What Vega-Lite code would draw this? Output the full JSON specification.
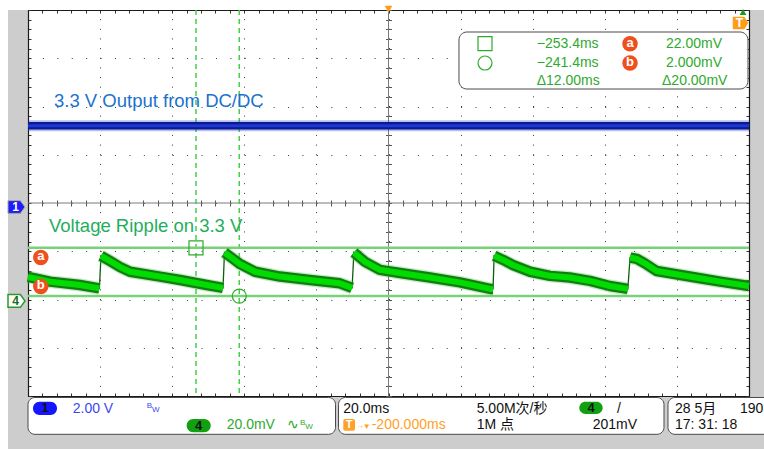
{
"$schema": "https://vega.github.io/schema/vega-lite/v6.json",
"width": 721, "height": 386,
"autosize": {"type": "none"},
"padding": {"left": 28, "top": 10, "right": 15, "bottom": 53},
"background": "#cdcdcd",
"config": {"view": {"fill": "white", "stroke": null}},
"datasets": {
 "ch4": [
  {"t": -300, "v": 9.95, "seg": 0}, {"t": -293.9, "v": 8.0, "seg": 0}, {"t": -285.6, "v": 6.6, "seg": 0}, {"t": -280.2, "v": 5.2, "seg": 0},
  {"t": -279.75, "v": 18.7, "seg": 1}, {"t": -277.3, "v": 16.6, "seg": 1}, {"t": -274.5, "v": 14.1, "seg": 1}, {"t": -271.7, "v": 12.1, "seg": 1}, {"t": -263.4, "v": 10.1, "seg": 1}, {"t": -257.8, "v": 8.7, "seg": 1}, {"t": -250.4, "v": 6.6, "seg": 1}, {"t": -245.9, "v": 5.4, "seg": 1},
  {"t": -245.5, "v": 20.1, "seg": 2}, {"t": -243.4, "v": 17.8, "seg": 2}, {"t": -241.2, "v": 15.3, "seg": 2}, {"t": -237.0, "v": 12.1, "seg": 2}, {"t": -230.1, "v": 10.1, "seg": 2}, {"t": -221.8, "v": 8.7, "seg": 2}, {"t": -213.5, "v": 7.3, "seg": 2}, {"t": -210.1, "v": 5.4, "seg": 2},
  {"t": -209.6, "v": 20.1, "seg": 3}, {"t": -206.5, "v": 16.2, "seg": 3}, {"t": -202.4, "v": 12.9, "seg": 3}, {"t": -196.8, "v": 11.6, "seg": 3}, {"t": -188.5, "v": 9.7, "seg": 3}, {"t": -180.2, "v": 7.7, "seg": 3}, {"t": -171.8, "v": 5.0, "seg": 3}, {"t": -171.0, "v": 5.0, "seg": 3},
  {"t": -170.7, "v": 18.7, "seg": 4}, {"t": -168.2, "v": 17.0, "seg": 4}, {"t": -165.5, "v": 14.9, "seg": 4}, {"t": -160.7, "v": 12.1, "seg": 4}, {"t": -155.2, "v": 10.4, "seg": 4}, {"t": -149.7, "v": 9.7, "seg": 4}, {"t": -144.1, "v": 8.3, "seg": 4}, {"t": -138.6, "v": 6.2, "seg": 4}, {"t": -133.6, "v": 5.0, "seg": 4},
  {"t": -133.0, "v": 18.0, "seg": 5}, {"t": -131.1, "v": 17.4, "seg": 5}, {"t": -128.9, "v": 15.6, "seg": 5}, {"t": -125.6, "v": 12.4, "seg": 5}, {"t": -121.9, "v": 11.5, "seg": 5}, {"t": -113.6, "v": 9.4, "seg": 5}, {"t": -108.0, "v": 8.0, "seg": 5}, {"t": -100, "v": 6.2, "seg": 5}
 ],
 "ch1": [{"t": -300, "v": 3.2}, {"t": -250, "v": 3.2}, {"t": -200, "v": 3.2}, {"t": -150, "v": 3.2}, {"t": -100, "v": 3.2}]
},
"data": {"values": [{}]},
"resolve": {"scale": {"y": "independent"}, "axis": {"x": "independent", "y": "independent"}},
"layer": [
 {"mark": {"type": "rect", "color": "white", "clip": false},
  "encoding": {"x": {"datum": -320, "type": "quantitative", "scale": {"domain": [-300, -100]}, "axis": null}, "x2": {"datum": -80},
   "y": {"datum": 120.6, "type": "quantitative", "scale": {"domain": [-39.4, 120.6]}, "axis": null}, "y2": {"datum": 135}}},
 {"mark": {"type": "rect", "color": "white", "clip": false},
  "encoding": {"x": {"datum": -320, "type": "quantitative", "scale": {"domain": [-300, -100]}, "axis": null}, "x2": {"datum": -305.55},
   "y": {"datum": 135, "type": "quantitative", "scale": {"domain": [-39.4, 120.6]}, "axis": null}, "y2": {"datum": -75}}},
 {"mark": {"type": "rule", "color": "#7a7a7a", "strokeWidth": 1},
  "encoding": {"x": {"datum": -200, "type": "quantitative", "scale": {"domain": [-300, -100]},
   "axis": {"orient": "bottom", "title": null, "labels": false, "values": [-300,-296,-292,-288,-284,-280,-276,-272,-268,-264,-260,-256,-252,-248,-244,-240,-236,-232,-228,-224,-220,-216,-212,-208,-204,-200,-196,-192,-188,-184,-180,-176,-172,-168,-164,-160,-156,-152,-148,-144,-140,-136,-132,-128,-124,-120,-116,-112,-108,-104,-100],
    "domain": true, "domainColor": "#1a1a1a", "domainWidth": 1.2, "ticks": true, "tickSize": -3, "tickColor": "#333333", "tickWidth": 1,
    "grid": true, "gridColor": "#3a3a3a", "gridWidth": 1, "gridDash": [1, 8.65],
    "gridOpacity": {"condition": {"test": "datum.value % 20 === 0", "value": 1}, "value": 0}}}}},
 {"mark": {"type": "rule", "color": "#7a7a7a", "strokeWidth": 1},
  "encoding": {"y": {"datum": 40.6, "type": "quantitative", "scale": {"domain": [-39.4, 120.6]},
   "axis": {"orient": "left", "title": null, "labels": false, "values": [-39.4,-35.4,-31.4,-27.4,-23.4,-19.4,-15.4,-11.4,-7.4,-3.4,0.6,4.6,8.6,12.6,16.6,20.6,24.6,28.6,32.6,36.6,40.6,44.6,48.6,52.6,56.6,60.6,64.6,68.6,72.6,76.6,80.6,84.6,88.6,92.6,96.6,100.6,104.6,108.6,112.6,116.6,120.6],
    "domain": true, "domainColor": "#1a1a1a", "domainWidth": 1.2, "ticks": true, "tickSize": -3, "tickColor": "#333333", "tickWidth": 1,
    "grid": true, "gridColor": "#3a3a3a", "gridWidth": 1, "gridDash": [1, 13.42],
    "gridOpacity": {"condition": {"test": "abs((datum.value + 39.4) / 20 - round((datum.value + 39.4) / 20)) < 0.01", "value": 1}, "value": 0}}}}},
 {"mark": {"type": "rule", "color": "#46cf46", "strokeWidth": 1.5, "strokeDash": [5, 4]},
  "encoding": {"x": {"datum": -253.4, "type": "quantitative", "scale": {"domain": [-300, -100]},
   "axis": {"orient": "top", "title": null, "labels": false, "values": [-300,-296,-292,-288,-284,-280,-276,-272,-268,-264,-260,-256,-252,-248,-244,-240,-236,-232,-228,-224,-220,-216,-212,-208,-204,-200,-196,-192,-188,-184,-180,-176,-172,-168,-164,-160,-156,-152,-148,-144,-140,-136,-132,-128,-124,-120,-116,-112,-108,-104,-100],
    "domain": true, "domainColor": "#1a1a1a", "domainWidth": 1.2, "tickSize": -3, "tickColor": "#333333", "grid": false}}}},
 {"mark": {"type": "rule", "color": "#46cf46", "strokeWidth": 1.5, "strokeDash": [5, 4]},
  "encoding": {"x": {"datum": -241.4, "type": "quantitative", "scale": {"domain": [-300, -100]},
   "axis": {"orient": "bottom", "offset": -196, "title": null, "labels": false, "values": [-300,-296,-292,-288,-284,-280,-276,-272,-268,-264,-260,-256,-252,-248,-244,-240,-236,-232,-228,-224,-220,-216,-212,-208,-204,-200,-196,-192,-188,-184,-180,-176,-172,-168,-164,-160,-156,-152,-148,-144,-140,-136,-132,-128,-124,-120,-116,-112,-108,-104,-100],
    "domain": false, "tickSize": 6, "tickColor": "#555555", "grid": false}}}},
 {"mark": {"type": "rule", "color": "#78d278", "strokeWidth": 2.5},
  "encoding": {"y": {"datum": 22, "type": "quantitative", "scale": {"domain": [-39.4, 120.6]},
   "axis": {"orient": "right", "title": null, "labels": false, "values": [-39.4,-35.4,-31.4,-27.4,-23.4,-19.4,-15.4,-11.4,-7.4,-3.4,0.6,4.6,8.6,12.6,16.6,20.6,24.6,28.6,32.6,36.6,40.6,44.6,48.6,52.6,56.6,60.6,64.6,68.6,72.6,76.6,80.6,84.6,88.6,92.6,96.6,100.6,104.6,108.6,112.6,116.6,120.6],
    "domain": true, "domainColor": "#1a1a1a", "domainWidth": 1.2, "tickSize": -3, "tickColor": "#333333", "grid": false}}}},
 {"mark": {"type": "rule", "color": "#78d278", "strokeWidth": 2.5},
  "encoding": {"y": {"datum": 2, "type": "quantitative", "scale": {"domain": [-39.4, 120.6]},
   "axis": {"orient": "left", "offset": -363.5, "title": null, "labels": false, "values": [-39.4,-35.4,-31.4,-27.4,-23.4,-19.4,-15.4,-11.4,-7.4,-3.4,0.6,4.6,8.6,12.6,16.6,20.6,24.6,28.6,32.6,36.6,40.6,44.6,48.6,52.6,56.6,60.6,64.6,68.6,72.6,76.6,80.6,84.6,88.6,92.6,96.6,100.6,104.6,108.6,112.6,116.6,120.6],
    "domain": false, "tickSize": 6, "tickColor": "#555555", "grid": false}}}},
 {"data": {"name": "ch1"}, "mark": {"type": "line", "color": "#3346e0", "strokeWidth": 11, "strokeCap": "butt", "opacity": 0.35},
  "encoding": {"x": {"field": "t", "type": "quantitative", "scale": {"domain": [-300, -100]}, "axis": null},
   "y": {"field": "v", "type": "quantitative", "scale": {"domain": [-8, 8]}, "axis": null}}},
 {"data": {"name": "ch1"}, "mark": {"type": "line", "color": "#0d1a8a", "strokeWidth": 7.5, "strokeCap": "butt"},
  "encoding": {"x": {"field": "t", "type": "quantitative", "scale": {"domain": [-300, -100]}, "axis": null},
   "y": {"field": "v", "type": "quantitative", "scale": {"domain": [-8, 8]}, "axis": null}}},
 {"data": {"name": "ch1"}, "mark": {"type": "line", "color": "#1d36d6", "strokeWidth": 3, "strokeCap": "butt"},
  "encoding": {"x": {"field": "t", "type": "quantitative", "scale": {"domain": [-300, -100]}, "axis": null},
   "y": {"field": "v", "type": "quantitative", "scale": {"domain": [-8, 8]}, "axis": null}}},
 {"data": {"name": "ch4"}, "mark": {"type": "line", "color": "#0b5e0b", "strokeWidth": 1.3},
  "encoding": {"x": {"field": "t", "type": "quantitative", "scale": {"domain": [-300, -100]}, "axis": null},
   "y": {"field": "v", "type": "quantitative", "scale": {"domain": [-39.4, 120.6]}, "axis": null}}},
 {"data": {"name": "ch4"}, "mark": {"type": "line", "color": "#4cc94c", "strokeWidth": 13, "strokeCap": "butt", "strokeJoin": "round", "opacity": 0.35},
  "encoding": {"x": {"field": "t", "type": "quantitative", "scale": {"domain": [-300, -100]}, "axis": null},
   "y": {"field": "v", "type": "quantitative", "scale": {"domain": [-39.4, 120.6]}, "axis": null},
   "detail": {"field": "seg", "type": "nominal"}}},
 {"data": {"name": "ch4"}, "mark": {"type": "line", "color": "#137d13", "strokeWidth": 10.5, "strokeCap": "butt", "strokeJoin": "round"},
  "encoding": {"x": {"field": "t", "type": "quantitative", "scale": {"domain": [-300, -100]}, "axis": null},
   "y": {"field": "v", "type": "quantitative", "scale": {"domain": [-39.4, 120.6]}, "axis": null},
   "detail": {"field": "seg", "type": "nominal"}}},
 {"data": {"name": "ch4"}, "mark": {"type": "line", "color": "#00dc00", "strokeWidth": 6, "strokeCap": "butt", "strokeJoin": "round"},
  "encoding": {"x": {"field": "t", "type": "quantitative", "scale": {"domain": [-300, -100]}, "axis": null},
   "y": {"field": "v", "type": "quantitative", "scale": {"domain": [-39.4, 120.6]}, "axis": null},
   "detail": {"field": "seg", "type": "nominal"}}},
 {"mark": {"type": "rect", "fill": "white", "stroke": "#4a4a4a", "strokeWidth": 1, "cornerRadius": 8, "clip": false},
  "encoding": {"x": {"datum": -180.45, "type": "quantitative", "scale": {"domain": [-300, -100]}, "axis": null}, "x2": {"datum": -100.28},
   "y": {"datum": 111.48, "type": "quantitative", "scale": {"domain": [-39.4, 120.6]}, "axis": null}, "y2": {"datum": 87.85}}},
 {"data": {"values": [
   {"t": -158.89, "v": 104.72, "s": "−253.4ms"}, {"t": -158.89, "v": 97.10, "s": "−241.4ms"}, {"t": -158.89, "v": 89.51, "s": "Δ12.00ms"},
   {"t": -123.02, "v": 104.72, "s": "22.00mV"}, {"t": -123.02, "v": 97.10, "s": "2.000mV"}, {"t": -124.13, "v": 89.51, "s": "Δ20.00mV"}]},
  "mark": {"type": "text", "align": "left", "baseline": "alphabetic", "font": "Liberation Sans", "fontSize": 14, "color": "#2eaa2e"},
  "encoding": {"x": {"field": "t", "type": "quantitative", "scale": {"domain": [-300, -100]}, "axis": null},
   "y": {"field": "v", "type": "quantitative", "scale": {"domain": [-39.4, 120.6]}, "axis": null}, "text": {"field": "s"}}},
 {"data": {"values": [{"t": -173.23, "v": 106.63}, {"t": -253.4, "v": 22}]},
  "mark": {"type": "point", "shape": "square", "filled": false, "color": "#2eaa2e", "strokeWidth": 1.2, "size": 196, "opacity": 1},
  "encoding": {"x": {"field": "t", "type": "quantitative", "scale": {"domain": [-300, -100]}, "axis": null},
   "y": {"field": "v", "type": "quantitative", "scale": {"domain": [-39.4, 120.6]}, "axis": null}}},
 {"data": {"values": [{"t": -173.23, "v": 98.63}, {"t": -241.4, "v": 2}]},
  "mark": {"type": "point", "shape": "circle", "filled": false, "color": "#2eaa2e", "strokeWidth": 1.2, "size": 196, "opacity": 1},
  "encoding": {"x": {"field": "t", "type": "quantitative", "scale": {"domain": [-300, -100]}, "axis": null},
   "y": {"field": "v", "type": "quantitative", "scale": {"domain": [-39.4, 120.6]}, "axis": null}}},
 {"data": {"values": [{"t": -133.01, "v": 106.63, "s": "a"}, {"t": -133.01, "v": 98.63, "s": "b"}, {"t": -296.45, "v": 18.01, "s": "a"}, {"t": -296.45, "v": 5.99, "s": "b"}]},
  "layer": [
   {"mark": {"type": "point", "shape": "circle", "filled": true, "color": "#ee4f1c", "size": 240, "opacity": 1, "clip": false},
    "encoding": {"x": {"field": "t", "type": "quantitative", "scale": {"domain": [-300, -100]}, "axis": null},
     "y": {"field": "v", "type": "quantitative", "scale": {"domain": [-39.4, 120.6]}, "axis": null}}},
   {"mark": {"type": "text", "align": "center", "baseline": "middle", "font": "Liberation Sans", "fontSize": 13, "fontWeight": "bold", "color": "white", "dy": -1},
    "encoding": {"x": {"field": "t", "type": "quantitative", "scale": {"domain": [-300, -100]}, "axis": null},
     "y": {"field": "v", "type": "quantitative", "scale": {"domain": [-39.4, 120.6]}, "axis": null}, "text": {"field": "s"}}}
  ]},
 {"data": {"values": [{"t": -292.79, "v": 80.39, "s": "3.3 V Output from DC/DC"}]},
  "mark": {"type": "text", "align": "left", "baseline": "alphabetic", "font": "Liberation Sans", "fontSize": 18.5, "color": "#1a72cc"},
  "encoding": {"x": {"field": "t", "type": "quantitative", "scale": {"domain": [-300, -100]}, "axis": null},
   "y": {"field": "v", "type": "quantitative", "scale": {"domain": [-39.4, 120.6]}, "axis": null}, "text": {"field": "s"}}},
 {"data": {"values": [{"t": -294.18, "v": 28.70, "s": "Voltage Ripple on 3.3 V"}]},
  "mark": {"type": "text", "align": "left", "baseline": "alphabetic", "font": "Liberation Sans", "fontSize": 18.5, "color": "#1fae5c"},
  "encoding": {"x": {"field": "t", "type": "quantitative", "scale": {"domain": [-300, -100]}, "axis": null},
   "y": {"field": "v", "type": "quantitative", "scale": {"domain": [-39.4, 120.6]}, "axis": null}, "text": {"field": "s"}}},
 {"data": {"values": [{"t": -303.19, "v": 38.94, "s": "1"}]},
  "layer": [
   {"mark": {"type": "point", "shape": "M-1,-0.75L0.45,-0.75L1,0L0.45,0.75L-1,0.75Z", "filled": true, "fill": "#1c1cff", "stroke": "#a8a890", "strokeWidth": 1, "size": 289, "opacity": 1, "clip": false},
    "encoding": {"x": {"field": "t", "type": "quantitative", "scale": {"domain": [-300, -100]}, "axis": null},
     "y": {"field": "v", "type": "quantitative", "scale": {"domain": [-39.4, 120.6]}, "axis": null}}},
   {"mark": {"type": "text", "align": "center", "baseline": "middle", "font": "Liberation Sans", "fontSize": 12, "fontWeight": "bold", "color": "white", "dx": -1},
    "encoding": {"x": {"field": "t", "type": "quantitative", "scale": {"domain": [-300, -100]}, "axis": null},
     "y": {"field": "v", "type": "quantitative", "scale": {"domain": [-39.4, 120.6]}, "axis": null}, "text": {"field": "s"}}}
  ]},
 {"data": {"values": [{"t": -303.19, "v": 0, "s": "4"}]},
  "layer": [
   {"mark": {"type": "point", "shape": "M-1,-0.75L0.45,-0.75L1,0L0.45,0.75L-1,0.75Z", "filled": true, "fill": "white", "stroke": "#2a9a2a", "strokeWidth": 1.5, "size": 289, "opacity": 1, "clip": false},
    "encoding": {"x": {"field": "t", "type": "quantitative", "scale": {"domain": [-300, -100]}, "axis": null},
     "y": {"field": "v", "type": "quantitative", "scale": {"domain": [-39.4, 120.6]}, "axis": null}}},
   {"mark": {"type": "text", "align": "center", "baseline": "middle", "font": "Liberation Sans", "fontSize": 12, "fontWeight": "bold", "color": "#1a6a1a", "dx": -1},
    "encoding": {"x": {"field": "t", "type": "quantitative", "scale": {"domain": [-300, -100]}, "axis": null},
     "y": {"field": "v", "type": "quantitative", "scale": {"domain": [-39.4, 120.6]}, "axis": null}, "text": {"field": "s"}}}
  ]},
 {"data": {"values": [{"t": -200, "v": 121.0}]},
  "mark": {"type": "point", "shape": "triangle-down", "filled": true, "color": "#ff9c1a", "size": 60, "opacity": 1, "clip": false},
  "encoding": {"x": {"field": "t", "type": "quantitative", "scale": {"domain": [-300, -100]}, "axis": null},
   "y": {"field": "v", "type": "quantitative", "scale": {"domain": [-39.4, 120.6]}, "axis": null}}},
 {"data": {"values": [{"t": -101.66, "v": 119.77}]},
  "mark": {"type": "point", "shape": "triangle-up", "filled": true, "color": "#1a9a1a", "size": 45, "opacity": 1, "clip": false},
  "encoding": {"x": {"field": "t", "type": "quantitative", "scale": {"domain": [-300, -100]}, "axis": null},
   "y": {"field": "v", "type": "quantitative", "scale": {"domain": [-39.4, 120.6]}, "axis": null}}},
 {"data": {"values": [{"t": -102.36, "v": 115.21, "s": "T"}]},
  "layer": [
   {"mark": {"type": "point", "shape": "M-1,-0.8L0.5,-0.8L1,0L0.5,0.8L-1,0.8Z", "filled": true, "color": "#ff9c1a", "size": 240, "opacity": 1, "clip": false},
    "encoding": {"x": {"field": "t", "type": "quantitative", "scale": {"domain": [-300, -100]}, "axis": null},
     "y": {"field": "v", "type": "quantitative", "scale": {"domain": [-39.4, 120.6]}, "axis": null}}},
   {"mark": {"type": "text", "align": "center", "baseline": "middle", "font": "Liberation Sans", "fontSize": 12, "fontWeight": "bold", "color": "white", "dx": -1, "clip": false},
    "encoding": {"x": {"field": "t", "type": "quantitative", "scale": {"domain": [-300, -100]}, "axis": null},
     "y": {"field": "v", "type": "quantitative", "scale": {"domain": [-39.4, 120.6]}, "axis": null}, "text": {"field": "s"}}}
  ]},
 {"data": {"values": [{"a": -300, "a2": -214.7}, {"a": -213.87, "a2": -123.58}, {"a": -122.47, "a2": -85}]},
  "mark": {"type": "rect", "fill": "white", "stroke": "#4a4a4a", "strokeWidth": 1, "cornerRadius": 7, "clip": false},
  "encoding": {"x": {"field": "a", "type": "quantitative", "scale": {"domain": [-300, -100]}, "axis": null}, "x2": {"field": "a2"},
   "y": {"datum": -40.02, "type": "quantitative", "scale": {"domain": [-39.4, 120.6]}, "axis": null}, "y2": {"datum": -55.28}}},
 {"data": {"values": [
   {"a": -298.61, "a2": -291.96, "b": -41.77, "b2": -47.28, "c": "pb"},
   {"a": -255.98, "a2": -249.32, "b": -48.93, "b2": -54.45, "c": "pg"},
   {"a": -147.08, "a2": -140.59, "b": -41.77, "b2": -46.86, "c": "pg"}]},
  "mark": {"type": "rect", "cornerRadius": 6.5, "clip": false},
  "encoding": {"x": {"field": "a", "type": "quantitative", "scale": {"domain": [-300, -100]}, "axis": null}, "x2": {"field": "a2"},
   "y": {"field": "b", "type": "quantitative", "scale": {"domain": [-39.4, 120.6]}, "axis": null}, "y2": {"field": "b2"},
   "color": {"field": "c", "type": "nominal", "legend": null, "scale": {"domain": ["k", "b", "g", "o", "pb", "pg"], "range": ["#111111", "#3b48f0", "#2eaa2e", "#ffa126", "#1515ff", "#10a010"]}}}},
 {"mark": {"type": "rect", "fill": "#ffa126", "cornerRadius": 2, "clip": false},
  "encoding": {"x": {"datum": -212.54, "type": "quantitative", "scale": {"domain": [-300, -100]}, "axis": null}, "x2": {"datum": -209.29},
   "y": {"datum": -48.93, "type": "quantitative", "scale": {"domain": [-39.4, 120.6]}, "axis": null}, "y2": {"datum": -53.79}}},
 {"data": {"values": [{"t": -295.28, "v": -44.5, "s": "1"}, {"t": -252.65, "v": -51.69, "s": "4"}, {"t": -143.83, "v": -44.3, "s": "4"}]},
  "mark": {"type": "text", "align": "center", "baseline": "middle", "font": "Liberation Sans", "fontSize": 13, "fontWeight": "bold", "color": "#111111", "clip": false},
  "encoding": {"x": {"field": "t", "type": "quantitative", "scale": {"domain": [-300, -100]}, "axis": null},
   "y": {"field": "v", "type": "quantitative", "scale": {"domain": [-39.4, 120.6]}, "axis": null}, "text": {"field": "s"}}},
 {"data": {"values": [{"t": -210.9, "v": -51.36, "s": "T"}]},
  "mark": {"type": "text", "align": "center", "baseline": "middle", "font": "Liberation Sans", "fontSize": 11, "fontWeight": "bold", "color": "white", "clip": false},
  "encoding": {"x": {"field": "t", "type": "quantitative", "scale": {"domain": [-300, -100]}, "axis": null},
   "y": {"field": "v", "type": "quantitative", "scale": {"domain": [-39.4, 120.6]}, "axis": null}, "text": {"field": "s"}}},
 {"data": {"values": [
   {"t": -287.60, "v": -46.32, "s": "2.00 V", "c": "b"},
   {"t": -244.88, "v": -53.21, "s": "20.0mV", "c": "g"},
   {"t": -228.07, "v": -53.21, "s": "∿", "c": "g"},
   {"t": -212.54, "v": -46.32, "s": "20.0ms", "c": "k"},
   {"t": -175.54, "v": -46.32, "s": "5.00M次/秒", "c": "k"},
   {"t": -136.62, "v": -46.32, "s": "/", "c": "k"},
   {"t": -204.66, "v": -53.21, "s": "-200.000ms", "c": "o"},
   {"t": -175.54, "v": -53.21, "s": "1M 点", "c": "k"},
   {"t": -143.36, "v": -53.21, "s": "201mV", "c": "k"},
   {"t": -120.53, "v": -46.32, "s": "28 5月", "c": "k"},
   {"t": -102.50, "v": -46.32, "s": "190", "c": "k"},
   {"t": -120.53, "v": -53.21, "s": "17: 31: 18", "c": "k"}]},
  "mark": {"type": "text", "align": "left", "baseline": "alphabetic", "font": "Liberation Sans, Noto Sans CJK SC", "fontSize": 14, "clip": false},
  "encoding": {"x": {"field": "t", "type": "quantitative", "scale": {"domain": [-300, -100]}, "axis": null},
   "y": {"field": "v", "type": "quantitative", "scale": {"domain": [-39.4, 120.6]}, "axis": null}, "text": {"field": "s"},
   "color": {"field": "c", "type": "nominal", "legend": null, "scale": {"domain": ["k", "b", "g", "o", "pb", "pg"], "range": ["#111111", "#3b48f0", "#2eaa2e", "#ffa126", "#1515ff", "#10a010"]}}}},
 {"data": {"values": [
   {"t": -267.08, "v": -44.5, "s": "B", "c": "b"}, {"t": -265.6, "v": -45.91, "s": "W", "c": "b"},
   {"t": -224.55, "v": -51.55, "s": "B", "c": "g"}, {"t": -223.1, "v": -53.21, "s": "W", "c": "g"},
   {"t": -209.02, "v": -52.5, "s": "→", "c": "o"}, {"t": -207.16, "v": -53.0, "s": "▼", "c": "o"}]},
  "mark": {"type": "text", "align": "left", "baseline": "alphabetic", "font": "Liberation Sans, DejaVu Sans", "fontSize": 8, "clip": false},
  "encoding": {"x": {"field": "t", "type": "quantitative", "scale": {"domain": [-300, -100]}, "axis": null},
   "y": {"field": "v", "type": "quantitative", "scale": {"domain": [-39.4, 120.6]}, "axis": null}, "text": {"field": "s"},
   "color": {"field": "c", "type": "nominal", "legend": null, "scale": {"domain": ["k", "b", "g", "o", "pb", "pg"], "range": ["#111111", "#3b48f0", "#2eaa2e", "#ffa126", "#1515ff", "#10a010"]}}}}
]
}
